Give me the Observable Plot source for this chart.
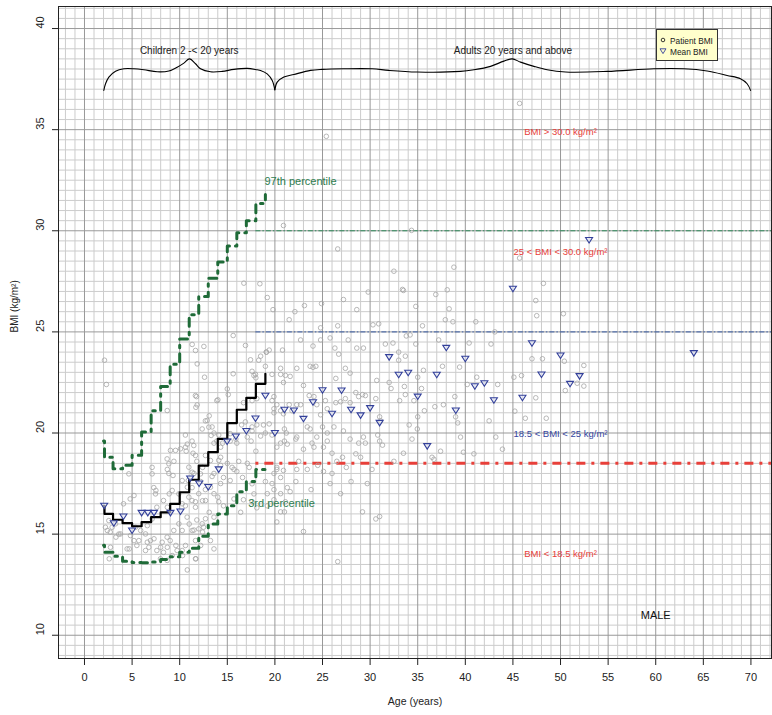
<!DOCTYPE html>
<html><head><meta charset="utf-8">
<script src="https://cdn.jsdelivr.net/npm/d3@7"></script>
<script src="https://cdn.jsdelivr.net/npm/@observablehq/plot@0.6"></script>
<style>
body{margin:0;background:#fff;font-family:"Liberation Sans",Arial,sans-serif;}
#wrap{position:relative;width:772px;height:715px;}
#legend{position:absolute;left:656px;top:29px;width:62px;height:32px;background:#ffffcc;border:1px solid #333;box-sizing:border-box;font-size:8.3px;color:#222;}
#legend span{position:absolute;left:13px;white-space:nowrap;line-height:10px;}
#legend svg{position:absolute;left:2px;}
</style></head>
<body><div id="wrap"><div id="legend">
<svg width="8" height="8" style="top:6px"><circle cx="4" cy="4" r="1.8" fill="none" stroke="#222" stroke-width="0.9"/></svg><span style="top:6px">Patient BMI</span>
<svg width="8" height="8" style="top:17px"><path d="M1,1.8L7,1.8L4,6.6Z" fill="none" stroke="#33409a" stroke-width="0.9"/></svg><span style="top:17px">Mean BMI</span>
</div></div>
<script>
// ---------- data ----------
const xTicks = [0,5,10,15,20,25,30,35,40,45,50,55,60,65,70];
const yTicks = [10,15,20,25,30,35,40];

const patientPoints = [
// children
[2.6,13.78],[2.4,15.18],[2.7,15.1],[2.2,15.34],[2.9,15.34],[3.3,14.85],[3.6,15.0],[4.7,14.27],[5.2,14.68],[5.5,14.44],
[6.6,14.6],[7.3,14.77],[7.6,14.19],[8.0,14.35],[8.3,14.1],[8.7,14.35],[9.0,14.68],[9.6,14.44],[10.3,13.94],[10.8,13.23],
[11.7,13.78],[12.2,14.44],[13.6,14.27],[12.4,15.1],[11.5,15.2],[11.0,15.5],[11.8,15.7],[12.5,15.34],[13.1,16.08],[13.6,15.84],
[14.0,16.83],[14.3,17.5],[16.4,16.08],[15.7,16.74],[17.8,16.99],[17.6,17.49],[11.3,16.66],[10.8,17.32],[8.7,16.33],[8.3,16.66],
[7.6,16.33],[7.1,15.75],[6.6,15.42],[5.9,15.18],[7.5,17.16],[8.9,16.99],[5.2,16.91],[4.8,16.74],[4.1,16.5],
[2.1,23.6],[2.3,22.4],
[4.66,17.98],[7.1,17.98],[7.28,17.3],[7.46,16.99],[8.68,18.72],[8.86,18.48],[9.03,19.14],[9.56,19.14],[10.61,19.3],[11.48,19.38],
[11.66,18.89],[12.71,18.89],[13.23,18.64],[10.96,18.31],[11.31,18.06],[12.18,17.98],[10.26,17.65],[9.21,17.16],[9.91,16.99],
[10.26,16.5],[10.96,16.83],[11.66,16.33],[12.71,16.66],[13.23,17.32],[2.56,15.67],[3.26,15.51],[3.78,15.01],[2.73,14.35],
[4.48,14.27],[4.83,14.93],[5.36,15.34],[5.71,14.68],[6.41,15.01],[6.93,14.68],[6.41,14.19],[6.76,14.35],[8.16,14.6],[8.68,14.85],
[9.38,15.18],[9.91,15.51],[10.26,15.18],[10.78,15.84],[11.31,15.18],[11.66,14.68],[12.01,15.26],[12.36,15.51],[12.71,15.76],
[13.23,14.68],[9.73,14.19],[10.26,14.19],[10.61,14.44],[11.66,13.78],[9.21,13.94],[8.68,13.7],[7.98,13.78],
[11.31,24.38],[11.66,24.08],[12.54,24.28],[11.84,23.42],[12.61,22.76],[11.77,21.8],[11.84,21.39],[8.69,21.11],[14.01,21.64],
[12.89,20.62],[15.62,24.82],[16.91,24.33],[16.74,27.41],[18.42,27.38],[15.62,22.93],[15.0,22.18],[17.44,23.62],[17.6,23.05],
[17.8,22.84],[18.0,22.73],[18.3,23.6],[12.36,20.2],[13.06,20.29],[13.3,19.88],[13.6,19.5],[13.9,19.6],[14.3,19.3],[15.3,19.6],
[16.0,19.5],[14.3,18.8],[14.1,18.65],[16.2,18.6],[15.7,18.2],[10.09,19.22],[10.68,19.1],[8.86,18.0],[9.39,18.6],
[11.4,19.0],[11.8,18.6],[8.7,18.2],[9.3,17.9],[7.1,18.3],[18.0,19.1],[17.6,20.1],[17.5,19.6],[18.1,20.4],[17.6,21.6],[18.1,21.7],
[16.5,20.4],[16.9,20.55],
[18.5,23.8],[19.1,24.0],[19.4,24.1],[19.0,23.3],[17.96,22.9],[19.7,22.9],[20.6,23.2],[20.9,22.5],[11.65,21.85],[11.7,21.27],
[13.9,21.6],[15.1,21.9],[16.7,21.5],[19.7,21.6],[19.9,21.2],[20.2,21.4],[20.6,21.1],[20.9,20.95],[12.7,20.6],[13.1,20.85],
[10.6,19.9],[11.3,19.6],[10.8,19.45],[13.4,20.3],[14.1,19.9],[13.6,20.0],[14.5,19.5],[15.3,19.97],[15.9,19.7],[17.1,19.8],
[17.6,20.3],[18.5,19.85],[19.0,20.0],[19.7,19.9],[20.2,19.3],[20.6,19.5],[21.3,19.45],[18.8,20.4],[19.4,20.45],[20.6,17.8],
[20.2,18.3],[20.9,18.15],[19.7,17.5],[19.9,17.2],[21.3,17.3],[19.0,17.6],[19.2,17.0],[17.1,18.5],[17.3,18.3],[16.6,17.8],
[14.3,18.4],[15.0,18.5],[15.5,18.3],[16.0,18.1],[13.6,18.0],[13.4,17.85],[14.6,17.8],[15.3,17.65],[12.4,18.3],[11.5,18.0],
[12.2,17.6],[10.9,17.65],[11.3,17.3],[12.0,17.0],[12.7,17.2],[13.6,17.0],[11.65,16.6],[10.6,16.4],[12.4,16.65],[14.1,16.6],
[14.6,16.4],[16.7,16.7],[17.6,16.6],[18.1,16.3],[19.2,16.4],[19.9,16.7],[20.6,17.0],[21.1,16.6],
// adults
[26.6,29.1],[32.5,28.0],[38.8,28.2],[33.5,27.05],[36.9,26.85],[38.1,27.08],[34.8,26.26],[38.3,26.14],[19.2,26.7],[19.8,26.1],
[22.1,26.0],[23.1,26.3],[21.5,25.6],[24.9,26.4],[27.2,26.6],[28.6,26.1],[29.8,26.97],[24.8,25.2],[26.6,25.3],[30.3,25.35],
[30.9,25.4],[35.5,25.3],[37.9,25.6],[38.7,25.5],[41.1,25.5],[43.1,25.0],[42.7,24.4],[40.4,24.45],[33.8,24.8],[34.2,24.85],
[31.6,24.4],[32.4,24.45],[22.7,24.6],[24.8,24.6],[25.8,24.7],[27.7,24.6],[28.6,24.2],[29.3,24.2],[26.3,24.2],[26.7,23.9],
[19.1,24.0],[24.0,24.3],[20.8,24.1],[33.0,24.0],[33.7,23.8],[34.8,24.4],[37.2,24.6],[37.6,23.3],[39.4,23.26],[33.0,23.6],
[35.6,23.1],[35.0,22.76],[33.6,22.3],[32.0,22.5],[32.2,22.2],[30.7,22.6],[27.4,23.2],[27.9,22.96],[26.4,22.7],[23.7,23.3],
[24.0,23.25],[24.3,23.3],[22.3,23.2],[20.6,22.9],[21.1,22.85],[21.6,22.8],[19.9,21.8],[19.9,21.0],[23.0,22.35],[23.6,21.85],
[28.5,22.0],[28.8,21.8],[29.2,21.9],[29.5,21.85],[27.4,21.7],[27.9,21.5],[26.4,21.5],[26.9,21.55],[25.3,21.6],[25.5,21.2],
[24.1,21.8],[24.4,21.4],[24.8,20.9],[22.3,21.4],[22.7,21.4],[21.5,21.4],[21.8,21.1],[30.6,21.7],[31.0,20.8],[31.1,20.6],
[33.1,21.6],[33.7,21.9],[34.6,21.6],[35.0,20.8],[35.4,22.2],[35.7,21.1],[34.1,20.4],[34.96,20.2],[34.4,19.7],[36.8,21.3],
[37.7,21.4],[38.98,20.8],[39.2,20.5],[39.5,19.8],[38.9,21.8],[40.2,22.4],[41.2,22.76],[43.4,22.4],[42.5,20.6],[43.2,19.8],
[43.9,19.2],[40.9,18.97],[39.8,19.05],[37.4,19.1],[36.5,18.8],[36.7,18.7],[30.8,19.9],[31.0,19.6],[31.3,19.4],[29.3,19.8],
[28.8,19.5],[29.5,19.5],[27.9,19.7],[27.2,20.1],[26.2,20.3],[25.5,20.0],[25.0,20.3],[23.4,20.3],[23.7,20.2],[22.3,19.8],
[22.2,19.7],[21.2,20.0],[21.0,20.2],[21.0,19.6],[24.4,19.8],[25.5,19.6],[25.1,19.3],[26.5,18.6],[23.9,19.5],[24.1,19.3],
[23.0,19.2],[26.0,19.0],[27.1,18.8],[28.5,18.97],[29.0,18.8],[25.1,18.1],[26.0,18.0],[20.2,18.2],[19.9,18.0],[22.3,18.2],
[23.4,18.2],[22.5,18.6],[24.5,18.4],[27.5,18.3],[30.2,18.2],[32.5,18.6],[33.5,19.0],[28.0,17.6],[23.8,17.2],[25.8,17.5],
[45.7,36.3],[25.4,34.67],[20.9,30.26],[34.35,30.02],[45.7,28.65],[48.2,27.4],[33.4,27.1],
[47.4,26.55],[47.5,25.8],[50.3,25.9],[47.0,23.67],[48.1,23.67],[50.4,23.55],[52.45,23.34],[45.1,22.76],[45.9,22.84],
[51.75,22.46],[52.45,22.32],[50.5,22.1],[47.4,21.74],[45.2,21.08],[46.3,20.73],[48.5,20.73],
[29.7,17.5],[26.9,17.0],[26.6,13.64],[29.2,16.1],[30.6,15.75],[31.0,15.87],[23.0,15.13],[20.2,15.6],[20.6,16.1],[21.0,16.1],
[21.6,17.1],[22.2,17.6]
];

const meanAge = [2.07,3.08,4.09,5.0,6.0,6.65,7.3,9.03,10.08,11.1,12.04,13.0,14.1,14.98,15.9,17.0,17.96,19.0,
  20,21,22,23,24,25,26,27,28,29,30,31,32,33,34,35,36,37,38,39,40,41,42,43,45,46,47,48,50,51,52,53,64];
const meanBmi = [16.4,15.54,15.87,15.18,16.05,16.05,16.05,16.05,16.12,17.75,17.5,17.33,18.2,19.58,19.83,20.1,20.72,21.84,
  20.0,21.15,21.11,20.7,21.52,22.11,20.95,22.1,21.15,20.87,21.23,20.5,23.75,22.88,22.98,21.8,19.35,22.88,24.21,21.11,23.67,22.31,22.46,21.62,
  27.13,21.74,24.44,22.89,23.83,22.43,22.81,29.54,23.95];

const curveAge = [2,2.1,3,4,5,6,7,8,9,10,11,12,13,14,15,16,17,18,19];
const medianBmi = [16.4,16.0,15.71,15.54,15.39,15.59,15.84,16.08,16.5,17.07,17.69,18.39,19.05,19.71,20.49,21.15,21.74,22.43,22.93];
const p97Bmi = [19.6,18.8,18.23,18.4,18.9,20.05,21.1,22.3,23.4,24.65,25.85,26.75,27.65,28.45,29.25,29.9,30.5,31.35,31.8];
const p3Bmi = [14.45,14.1,13.9,13.66,13.6,13.58,13.62,13.75,13.88,14.1,14.3,14.9,15.5,16.0,16.4,17.1,17.6,18.2,18.45];

const refLevels = [30, 25, 18.5];
const refStartAge = 18;

const braceChildren = [[2.03,36.94],[2.21,37.27],[2.56,37.6],[3.26,37.89],[4.14,38.01],[5.19,38.01],[6.24,37.96],[7.64,37.86],
 [8.86,37.9],[9.74,38.09],[10.44,38.29],[11.03,38.5],[11.66,38.26],[12.19,38.01],[13.24,37.86],[14.46,37.88],[15.69,37.98],
 [17.09,38.03],[18.14,37.96],[18.49,37.93],[19.19,37.76],[19.72,37.43],[19.99,36.97]];
const braceAdults = [[19.99,36.97],[20.24,37.35],[20.94,37.6],[21.99,37.73],[23.74,37.93],[24.97,37.98],[27.24,38.01],[30.22,38.01],
 [31.97,37.93],[34.95,37.85],[39.5,37.88],[40.9,37.96],[42.65,38.13],[44.05,38.39],[44.93,38.5],[45.8,38.34],[47.2,38.13],
 [48.6,37.96],[50.53,37.85],[54.9,37.88],[59.8,38.01],[62.96,38.01],[65.4,37.9],[67.5,37.68],[68.9,37.52],[69.6,37.27],[69.96,36.94]];

const braceLabels = ["Children 2 -< 20 years", "Adults 20 years and above"];
const braceLabelAge = [11, 45];
const braceLabelBmi = [38.88, 38.88];

const zoneLabels = ["BMI > 30.0 kg/m²", "25 < BMI < 30.0 kg/m²", "18.5 < BMI < 25 kg/m²", "BMI < 18.5 kg/m²"];
const zoneLabelAge = [50, 50, 50, 50];
const zoneLabelBmi = [34.9, 28.94, 19.96, 14.0];

const pctLabels = ["97th percentile", "3rd percentile"];
const pctLabelAge = [18.9, 17.2];
const pctLabelBmi = [32.44, 16.5];

const sexLabel = ["MALE"];
const sexLabelAge = [60];
const sexLabelBmi = [10.96];

// ---------- styles ----------
const red = "#e8403a", blue = "#3646a0", green = "#1f6b38", greenText = "#2e7d4f";
const zoneColors = [red, red, blue, red];
const xDomain = [-2.73, 72.16], yDomain = [8.85, 41.09];

const xMinor = d3.range(-2, 73, 1).filter(v => v % 5 !== 0);
const xMajor = d3.range(0, 71, 5);
const yMinor = d3.range(9, 41.01, 0.5).filter(v => v % 5 !== 0);
const yMajor = d3.range(10, 41, 5);

const triangleDown = {
  draw(context, size) {
    const r = Math.sqrt(size / Math.PI);
    context.moveTo(-r, -0.72 * r);
    context.lineTo(r, -0.72 * r);
    context.lineTo(0, 0.85 * r);
    context.closePath();
  }
};

const patients = patientPoints.map(([age, bmi]) => ({age, bmi}));
const means = meanAge.map((age, i) => ({age, bmi: meanBmi[i]}));
const median = curveAge.map((age, i) => ({age, bmi: medianBmi[i]}));
const p97 = curveAge.map((age, i) => ({age, bmi: p97Bmi[i]}));
const p3 = curveAge.map((age, i) => ({age, bmi: p3Bmi[i]}));
const zones = zoneLabels.map((t, i) => ({t, age: zoneLabelAge[i], bmi: zoneLabelBmi[i], c: zoneColors[i]}));
const refs = refLevels.map((bmi, i) => ({bmi, c: ["#2f8a5a", "#3b5ea8"][i]}));

const chart = Plot.plot({
  width: 772, height: 715,
  marginLeft: 58, marginRight: 1, marginTop: 6, marginBottom: 57,
  x: {domain: xDomain},
  y: {domain: yDomain},
  color: {type: "identity"},
  style: {fontFamily: '"Liberation Sans", Arial, sans-serif', fontSize: "11px", background: "white", color: "#222"},
  marks: [
    Plot.ruleX(xMinor, {stroke: "#cccccc", strokeWidth: 1}),
    Plot.ruleY(yMinor, {stroke: "#cccccc", strokeWidth: 1}),
    Plot.ruleX(xMajor, {stroke: "#999999", strokeWidth: 1}),
    Plot.ruleY(yMajor, {stroke: "#999999", strokeWidth: 1}),
    Plot.ruleY(refs.slice(0, 2), {y: "bmi", x1: refStartAge, x2: xDomain[1], stroke: "c", strokeWidth: 1, strokeDasharray: "5,2,1.5,2"}),
    Plot.ruleY([refLevels[2]], {x1: refStartAge, x2: xDomain[1], stroke: red, strokeWidth: 3, strokeDasharray: "3,6,9,6"}),
    Plot.dot(patients, {x: "age", y: "bmi", r: 2.3, stroke: "#a6a6a6", strokeWidth: 0.8}),
    Plot.line(p97, {x: "age", y: "bmi", curve: "step-after", stroke: green, strokeWidth: 3, strokeDasharray: "2.5,6,8,6"}),
    Plot.line(p3, {x: "age", y: "bmi", curve: "step-after", stroke: green, strokeWidth: 3, strokeDasharray: "2.5,6,8,6"}),
    Plot.line(median, {x: "age", y: "bmi", curve: "step-after", stroke: "black", strokeWidth: 2.2}),
    Plot.dot(means, {x: "age", y: "bmi", r: 3.5, symbol: triangleDown, stroke: "#33409a", strokeWidth: 1.1, fill: "#e4e7f6", fillOpacity: 0.6}),
    Plot.line(braceChildren, {x: d => d[0], y: d => d[1], curve: "catmull-rom", stroke: "black", strokeWidth: 1.1}),
    Plot.line(braceAdults, {x: d => d[0], y: d => d[1], curve: "catmull-rom", stroke: "black", strokeWidth: 1.1}),
    Plot.text(braceLabels, {x: (d, i) => braceLabelAge[i], y: (d, i) => braceLabelBmi[i], text: d => d, fontSize: 10, fill: "#222"}),
    Plot.text(zones, {x: "age", y: "bmi", text: "t", fill: "c", fontSize: 9.5}),
    Plot.text(pctLabels, {x: (d, i) => pctLabelAge[i], y: (d, i) => pctLabelBmi[i], text: d => d, textAnchor: "start", fill: greenText, fontSize: 11}),
    Plot.text(sexLabel, {x: (d, i) => sexLabelAge[i], y: (d, i) => sexLabelBmi[i], text: d => d, fontSize: 11, fill: "#111"}),
    Plot.frame({stroke: "#222"}),
    Plot.axisX({ticks: xTicks, tickSize: 7, tickPadding: 8, label: null, fontSize: 11}),
    Plot.axisY({ticks: yTicks, tickSize: 6, tickFormat: () => "", label: null}),
    Plot.text(yTicks, {y: d => d, text: d => String(d), frameAnchor: "left", dx: -18, rotate: -90, fontSize: 11}),
    Plot.text(["BMI (kg/m²)"], {frameAnchor: "left", dx: -44, rotate: -90, fontSize: 10}),
    Plot.text(["Age (years)"], {frameAnchor: "bottom", dy: 46, fontSize: 10.5})
  ]
});
document.getElementById("wrap").prepend(chart);
</script>
</body></html>
